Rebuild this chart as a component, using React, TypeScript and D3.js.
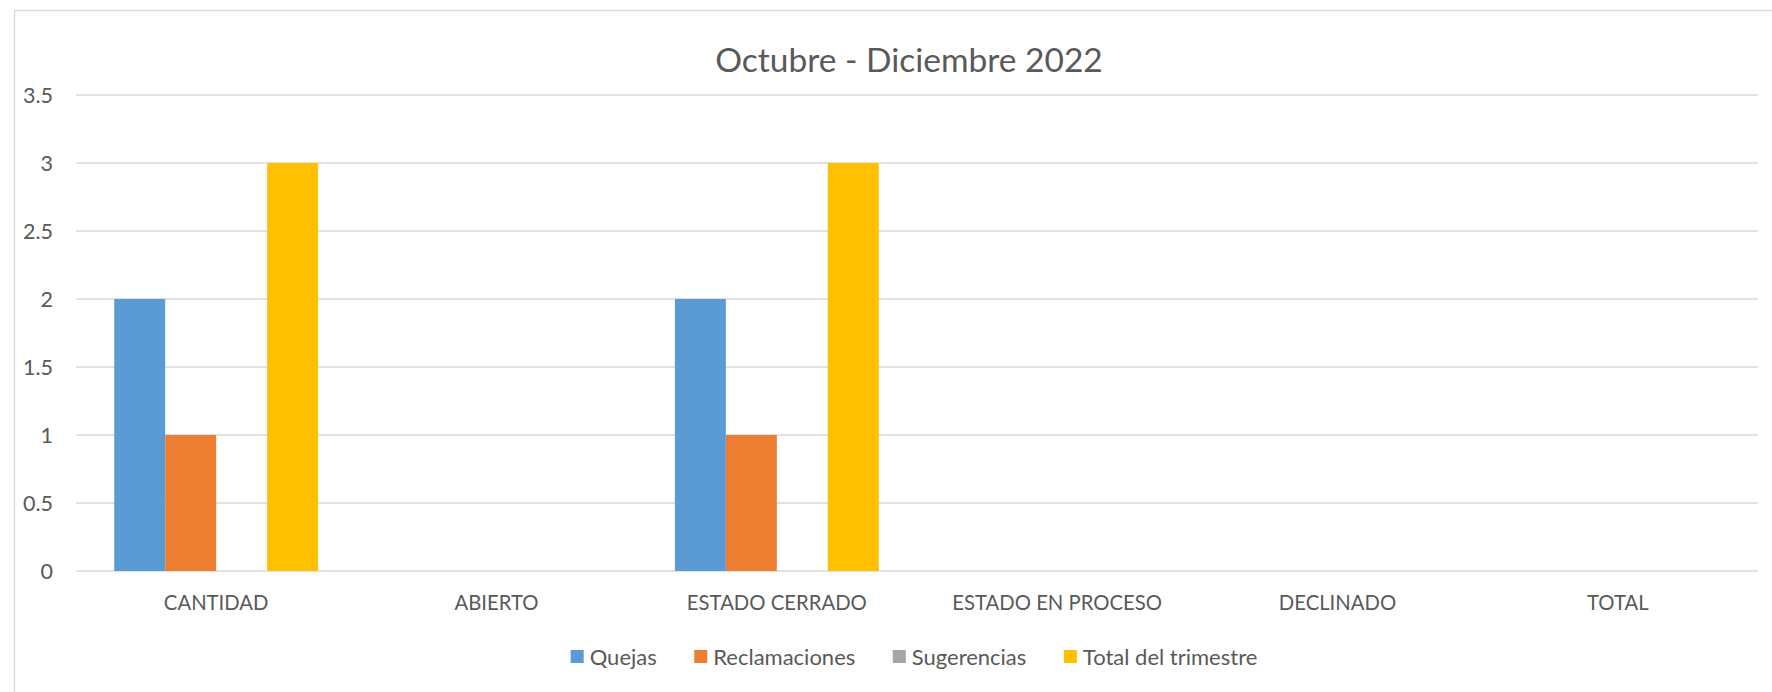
import React, { useLayoutEffect, useRef, useState } from "react";
import * as d3 from "d3";

const title = "Octubre - Diciembre 2022";
const categories = ["CANTIDAD", "ABIERTO", "ESTADO CERRADO", "ESTADO EN PROCESO", "DECLINADO", "TOTAL"];
const seriesNames = ["Quejas", "Reclamaciones", "Sugerencias", "Total del trimestre"];
const quejas = [2, 0, 2, 0, 0, 0];
const reclamaciones = [1, 0, 1, 0, 0, 0];
const sugerencias = [0, 0, 0, 0, 0, 0];
const totalTrimestre = [3, 0, 3, 0, 0, 0];
const yTicks = [0, 0.5, 1, 1.5, 2, 2.5, 3, 3.5];
const colors = ["#5B9BD5", "#ED7D31", "#A5A5A5", "#FFC000"];

const W = 1772;
const H = 692;
const FONT = "Lato, 'Noto Sans', sans-serif";
const TEXT = "#595959";
const GRID = "#d9d9d9";

export default function App() {
  const seriesValues = [quejas, reclamaciones, sugerencias, totalTrimestre];
  const x0 = d3.scaleBand<string>().domain(categories).range([76, 1758]);
  const bw = x0.bandwidth();
  const gap = (bw * 1.5) / 5.5;
  const x1 = d3.scaleBand<string>().domain(seriesNames).range([gap / 2, bw - gap / 2]);
  const y = d3.scaleLinear().domain([0, 3.5]).range([571, 95]);

  const legendRefs = useRef<(SVGTextElement | null)[]>([]);
  const [lw, setLw] = useState<number[]>([66, 143, 114, 180]);
  useLayoutEffect(() => {
    setLw(legendRefs.current.map((t) => (t ? t.getComputedTextLength() : 0)));
  }, []);

  const marker = 13;
  const mGap = 6;
  const itemGap = 37.5;
  const totalLegend =
    lw.reduce((a, b) => a + b, 0) + seriesNames.length * (marker + mGap) + itemGap * (seriesNames.length - 1);
  let lx = 914 - totalLegend / 2;
  const legendX: number[] = [];
  lw.forEach((w) => {
    legendX.push(lx);
    lx += marker + mGap + w + itemGap;
  });

  return (
    <svg width={W} height={H} style={{ position: "absolute", left: 0, top: 0, background: "#fff" }} fontFamily={FONT}>
      <rect x={14.5} y={10.5} width={1800} height={720} fill="#fff" stroke={GRID} strokeWidth={1.33} />
      <text x={909} y={72} textAnchor="middle" fontSize={33.5} fill={TEXT}>
        {title}
      </text>
      {yTicks.map((t) => (
        <g key={t}>
          <line x1={76} x2={1758} y1={y(t)} y2={y(t)} stroke={GRID} strokeWidth={1.33} />
          <text x={53} y={y(t)} dy="0.35em" textAnchor="end" fontSize={21.5} fill={TEXT}>
            {String(t)}
          </text>
        </g>
      ))}
      {categories.map((c, i) => (
        <g key={c} transform={`translate(${x0(c)},0)`}>
          {seriesNames.map((s, j) => {
            const v = seriesValues[j][i];
            if (!v) return null;
            return (
              <rect key={s} x={x1(s)} y={y(v)} width={x1.bandwidth()} height={y(0) - y(v)} fill={colors[j]} />
            );
          })}
          <text x={bw / 2} y={610} textAnchor="middle" fontSize={20.3} fill={TEXT}>
            {c}
          </text>
        </g>
      ))}
      {seriesNames.map((s, j) => (
        <g key={s}>
          <rect x={legendX[j]} y={650} width={marker} height={marker} fill={colors[j]} />
          <text
            ref={(el) => {
              legendRefs.current[j] = el;
            }}
            x={legendX[j] + marker + mGap}
            y={664.5}
            fontSize={22}
            fill={TEXT}
          >
            {s}
          </text>
        </g>
      ))}
    </svg>
  );
}
